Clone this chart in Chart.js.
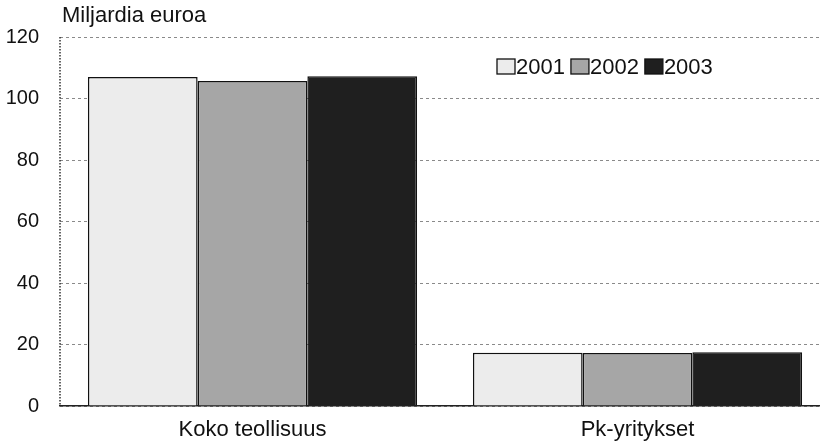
<!DOCTYPE html>
<html lang="fi">
<head>
<meta charset="UTF-8">
<title>Miljardia euroa</title>
<script src="https://cdn.jsdelivr.net/npm/chart.js@4.4.1/dist/chart.umd.min.js"></script>
<style>
    body { margin: 0; padding: 0; background: #fff; }
    /* plot runs on past the right edge in the original, so the canvas is a bit wider and clipped */
    .wrap { position: relative; width: 820px; height: 443px; overflow: hidden; }
</style>
</head>
<body>
<div class="wrap"><canvas id="chart" width="830" height="443"></canvas></div>
<script>
// data
const categories = ['Koko teollisuus', 'Pk-yritykset'];
const years = ['2001', '2002', '2003'];
const values2001 = [107.0, 17.3];
const values2002 = [105.7, 17.2];
const values2003 = [107.2, 17.5];
const yTicks = [0, 20, 40, 60, 80, 100, 120];
const unitLabel = 'Miljardia euroa';

const fills = ['#ececec', '#a6a6a6', '#1f1f1f'];
const font = 'Arial, "Liberation Sans", sans-serif';

// unit text, dotted y axis line and the legend inside the plot
const extras = {
    id: 'extras',
    afterDraw(chart) {
        const ctx = chart.ctx;
        const area = chart.chartArea;
        ctx.save();

        ctx.strokeStyle = '#333';
        ctx.lineWidth = 1.5;
        ctx.setLineDash([1.5, 1.5]);
        ctx.beginPath();
        ctx.moveTo(area.left, area.top);
        ctx.lineTo(area.left, area.bottom);
        ctx.stroke();
        ctx.setLineDash([]);

        ctx.font = '22px ' + font;
        ctx.fillStyle = '#111';
        ctx.textBaseline = 'middle';
        ctx.textAlign = 'left';
        ctx.fillText(unitLabel, 62, 16);

        let x = 497;
        const y = 67;
        chart.data.datasets.forEach(ds => {
            ctx.fillStyle = ds.backgroundColor;
            ctx.fillRect(x, y - 8, 18, 15);
            ctx.strokeStyle = '#111';
            ctx.lineWidth = 1.3;
            ctx.strokeRect(x, y - 8, 18, 15);
            ctx.fillStyle = '#111';
            ctx.fillText(ds.label, x + 19, y + 1);
            x += 19 + ctx.measureText(ds.label).width + 6;
        });
        ctx.restore();
    }
};

new Chart(document.getElementById('chart'), {
    type: 'bar',
    data: {
        labels: categories,
        datasets: [values2001, values2002, values2003].map((v, i) => ({
            label: years[i],
            data: v,
            backgroundColor: fills[i],
            borderColor: '#111',
            borderWidth: 1.5,
            borderSkipped: 'bottom',
            categoryPercentage: 0.855,
            barPercentage: 1
        }))
    },
    options: {
        responsive: false,
        animation: false,
        layout: { padding: { top: 37, right: 0, bottom: 0, left: 0 } },
        plugins: {
            legend: { display: false },
            tooltip: { enabled: false }
        },
        scales: {
            x: {
                afterFit: axis => { axis.height = 37; },
                grid: { display: false, drawTicks: false },
                border: { display: true, color: '#222', width: 1.5 },
                ticks: { color: '#111', font: { size: 22, family: font, lineHeight: 1.2 }, padding: 11 }
            },
            y: {
                min: 0,
                max: 120,
                afterBuildTicks: axis => { axis.ticks = yTicks.map(v => ({ value: v })); },
                afterFit: axis => { axis.width = 60; },
                grid: { color: '#8a8a8a', lineWidth: 1, drawTicks: false },
                border: { display: false, dash: [3, 3] },
                ticks: { color: '#111', font: { size: 20, family: font }, padding: 21 }
            }
        }
    },
    plugins: [extras]
});
</script>
</body>
</html>
